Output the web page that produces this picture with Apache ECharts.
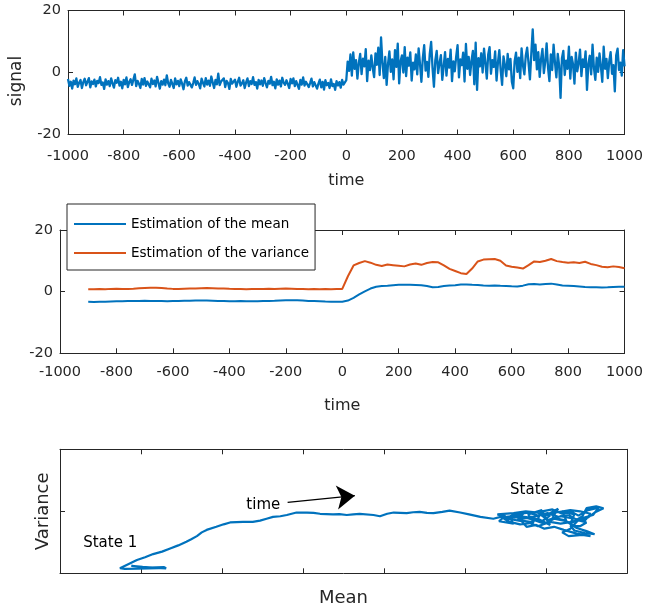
<!DOCTYPE html>
<html><head><meta charset="utf-8">
<script src="https://cdn.jsdelivr.net/npm/echarts@6/dist/echarts.min.js"></script>
<style>html,body{margin:0;padding:0;background:#fff}#c{width:646px;height:611px}</style>
</head><body><div id="c"></div>
<script>
// ---- Panel 1: raw signal, sampled every 5 time units from -1000 ----
const signalStart = -1000;
const signalStep = 5;
const signalPre = [
-2.1,-4.3,-3.0,-5.2,-2.6,-3.8,-1.9,-4.6,-3.3,-2.4,-5.0,-3.1,-2.0,-4.1,-3.6,-1.8,-4.8,-2.9,-3.7,-2.3,
-4.5,-2.7,-3.4,-1.5,-4.0,-3.2,-5.3,-2.2,-3.9,-2.8,-4.4,-1.9,-3.5,-4.9,-2.5,-3.3,-1.7,-4.2,-3.0,-5.1,
-2.4,-3.8,-1.6,-4.7,-3.1,-2.2,-4.0,-3.5,-0.6,-4.4,-2.7,-3.6,-5.0,-2.1,-3.9,-1.8,-4.3,-2.9,-3.4,-4.8,
-2.0,-3.7,-2.6,-4.5,-1.4,-3.3,-5.2,-2.8,-3.9,-2.3,-4.1,-0.9,-3.5,-4.6,-2.4,-3.0,-5.0,-1.9,-3.8,-2.7,
-4.4,-2.2,-3.6,-5.4,-2.9,-1.7,-4.2,-3.1,-2.5,-4.8,-3.4,-1.6,-4.0,-2.8,-3.7,-5.1,-2.0,-3.3,-4.5,-1.8,
-3.9,-2.6,-4.3,-1.3,-3.2,-5.0,-2.4,-3.8,-0.4,-4.1,-2.9,-3.5,-1.9,-4.7,-2.7,-3.4,-5.3,-2.1,-3.6,-4.0,
-2.3,-4.6,-3.0,-1.7,-4.2,-3.5,-2.5,-5.0,-3.2,-1.9,-4.4,-2.8,-3.7,-1.5,-4.0,-3.1,-5.2,-2.4,-3.8,-2.6,
-4.3,-1.8,-3.4,-4.8,-2.7,-3.6,-1.4,-4.1,-3.0,-5.1,-2.2,-3.9,-2.6,-4.5,-1.7,-3.3,-4.0,-2.5,-3.7,-5.0,
-2.1,-3.5,-1.9,-4.4,-2.8,-3.2,-5.3,-2.4,-3.9,-1.6,-4.2,-3.0,-2.6,-4.7,-3.4,-2.0,-4.5,-3.1,-2.7,-5.2,
-3.6,-2.3,-4.8,-3.0,-5.5,-2.5,-4.1,-3.4,-5.0,-2.2,-4.4,-3.7,-5.6,-2.8,-4.2,-3.1,-4.9,-2.4,-3.9,-3.2
];
const signalPost = [
-2.5,3.5,0.5,5.8,-1.0,6.5,1.2,4.0,-2.0,3.0,6.0,-0.5,4.5,2.0,7.5,-2.8,3.8,0.8,5.5,1.5,
-1.5,6.2,2.5,8.0,-0.8,11.3,3.0,-1.8,5.0,-4.0,2.8,6.8,0.2,4.2,-2.2,7.2,1.8,9.3,-3.5,3.6,
5.5,0.0,8.2,-1.2,4.8,2.2,6.5,-2.6,3.2,1.0,5.8,-0.6,7.8,2.6,-3.0,4.6,8.8,0.6,3.4,-1.4,
6.0,9.9,1.4,-4.6,4.0,7.0,-0.2,3.0,5.6,-2.4,2.0,6.6,-1.0,4.4,1.6,7.4,-2.8,3.6,0.4,5.2,
8.8,-1.6,4.2,2.4,6.4,-2.9,9.2,1.2,5.0,-0.8,3.8,7.0,-3.8,9.6,-5.6,4.6,2.0,6.2,0.0,7.7,
3.0,-2.0,5.8,8.2,-0.4,4.0,1.8,6.8,-2.6,3.2,7.2,0.6,-4.0,5.2,2.4,-1.2,6.0,1.0,4.4,-3.0,
-5.1,3.6,6.4,0.2,4.8,-1.8,7.8,2.2,-0.6,5.4,8.0,3.0,-2.2,6.2,13.9,4.0,9.0,1.0,6.6,-1.4,
4.4,7.6,-0.2,3.4,9.4,1.6,-2.8,5.8,0.8,9.0,3.2,-1.6,6.0,2.2,-8.2,4.6,7.0,-0.8,3.8,1.2,
8.3,-2.0,5.0,2.6,-3.6,6.4,0.4,3.0,7.4,-1.2,4.2,1.8,6.8,-5.6,2.8,5.4,-0.6,9.0,1.4,-2.4,
4.8,0.2,6.2,2.0,-3.0,8.3,1.2,4.4,-1.8,3.6,6.6,-0.4,2.4,-6.1,5.6,7.7,0.8,3.2,-1.0,7.2,
2.0
];

// ---- Panel 2: running estimates, every 20 time units from -900 ----
const estStart = -900;
const estStep = 20;
const meanEst = [
-3.3,-3.35,-3.3,-3.25,-3.2,-3.15,-3.1,-3.05,-3.0,-3.0,
-2.95,-3.0,-3.0,-3.05,-3.1,-3.05,-3.0,-2.95,-2.95,-2.9,
-2.85,-2.9,-2.95,-3.0,-3.05,-3.1,-3.1,-3.05,-3.1,-3.15,
-3.1,-3.05,-3.0,-2.95,-2.85,-2.8,-2.75,-2.8,-2.9,-3.0,
-3.05,-3.1,-3.2,-3.25,-3.3,
-3.3,
-2.9,-2.0,-0.9,0.1,1.0,1.6,1.85,1.95,2.1,2.2,
2.25,2.2,2.15,2.1,1.8,1.4,1.5,1.8,2.0,2.1,
2.3,2.35,2.2,2.15,2.0,1.95,2.0,1.9,1.85,1.75,
1.7,1.95,2.4,2.45,2.35,2.5,2.6,2.3,2.0,1.9,
1.8,1.65,1.5,1.45,1.4,1.35,1.4,1.5,1.55,1.6
];
const varEst = [
0.8,0.8,0.85,0.8,0.9,0.95,0.9,0.85,0.95,1.1,
1.2,1.3,1.25,1.15,1.0,0.9,0.9,0.95,1.0,1.05,
1.1,1.15,1.1,1.0,1.05,0.95,0.9,0.85,0.8,0.85,
0.9,0.9,0.95,0.9,0.95,1.0,0.95,0.9,0.85,0.8,
0.85,0.8,0.85,0.8,0.85,
0.9,
5.0,8.5,9.3,9.9,9.4,8.7,8.3,8.8,8.6,8.4,
8.2,8.8,9.1,8.7,9.3,9.6,9.5,8.5,7.4,6.7,
6.0,5.7,7.5,9.8,10.4,10.5,10.6,10.0,8.5,8.1,
7.8,7.5,8.6,9.8,9.6,10.0,10.6,9.9,9.6,9.4,
9.5,9.3,9.7,9.0,8.6,8.1,7.9,8.2,8.0,7.6
];

// ---- Panel 3: trajectory in (mean, variance) plane ----
const trajMean = [
-2.90,-2.72,-2.69,-2.95,-3.12,-2.98,-2.78,-3.04,-3.20,-3.26,
-3.05,-2.95,-2.85,-2.74,-2.64,-2.54,-2.44,-2.38,-2.31,-2.25,-2.19,-2.07,-1.98,-1.90,-1.74,-1.62,-1.53,-1.45,-1.37,-1.28,
-1.20,-1.08,-0.95,-0.87,-0.79,-0.63,-0.55,-0.46,-0.38,-0.30,-0.13,-0.05,0.04,0.12,0.28,0.36,0.44,0.53,0.61,0.72,
0.81,0.94,1.05,1.19,
1.35,1.5,1.42,1.6,1.55,1.72,1.65,1.85,1.78,1.95,1.9,2.05,1.98,2.15,2.08,2.25,2.2,2.35,2.3,2.45,
2.5,2.62,2.71,2.6,2.52,2.4,2.3,2.2,2.28,2.45,2.55,2.38,2.22,2.1,1.98,1.88,1.76,1.7,1.58,1.45,
1.62,1.8,2.0,2.12,2.3,2.42,2.55,2.48,2.35,2.18,2.02,1.9,1.75,1.6,1.4,
1.55,1.7,1.68,1.82,1.95,2.05,1.92,2.08,2.2,2.32,2.4,2.52,2.65,2.58,2.45,2.32,2.18,2.05,1.9,1.8,
1.68,1.55,1.48,1.62,1.78,1.9,2.02,2.15,2.28,2.38,2.5,2.42,2.3,2.35,2.48,2.6,2.5,2.38,2.25,2.1,
1.98,1.85,1.72,1.6
];
const trajVar = [
0.9,1.0,0.8,0.95,1.2,1.05,0.85,0.75,0.72,0.81,
2.15,2.6,3.1,3.5,4.0,4.5,5.1,5.5,6.0,6.6,7.0,7.5,7.9,8.2,8.3,8.3,8.5,8.8,9.1,9.2,
9.4,9.8,9.8,9.75,9.6,9.5,9.55,9.4,9.5,9.6,9.4,9.2,9.6,9.8,9.7,9.85,9.9,9.75,9.7,9.9,
10.1,9.8,9.5,9.1,
8.8,9.3,8.4,8.0,9.0,9.6,8.6,8.2,9.5,10.2,8.8,7.8,9.2,10.4,9.0,8.5,10.0,9.5,8.0,9.2,
10.5,10.8,10.5,9.8,9.0,8.6,7.2,6.6,6.0,6.2,6.0,6.4,7.0,7.5,7.2,7.8,7.5,8.4,8.7,9.0,
9.3,9.0,9.6,9.8,10.2,10.0,9.6,8.5,8.8,9.2,8.6,9.8,10.0,9.7,9.5,
8.9,9.4,8.7,9.1,8.4,9.3,9.9,10.3,9.6,9.9,9.3,10.2,10.6,9.4,8.9,8.3,8.0,8.3,7.6,8.1,
7.9,8.3,8.8,9.5,9.8,9.3,9.7,9.1,9.4,8.6,8.2,7.6,7.7,6.9,6.5,6.3,6.8,7.3,8.4,8.8,
8.0,8.6,9.1,9.0
];

const BLUE = '#0072BD', ORANGE = '#D95319', AX = '#262626', FONT = 'DejaVu Sans';

const signalData = signalPre.concat(signalPost).map((v, i) => [signalStart + i * signalStep, v]);
const meanData = meanEst.map((v, i) => [estStart + i * estStep, v]);
const varData = varEst.map((v, i) => [estStart + i * estStep, v]);
const trajData = trajMean.map((m, i) => [m, trajVar[i]]);

const grids = [
  {left: 60, right: 19, top: 10.5, height: 124},
  {left: 60, right: 19, top: 230, height: 123.3},
  {left: 60, right: 19, top: 449.3, height: 124}
];
const axisCommon = {
  type: 'value',
  axisLine: {show: true, onZero: false, lineStyle: {color: AX, width: 1}},
  axisTick: {show: true, inside: true, length: 5, lineStyle: {color: AX, width: 1}},
  splitLine: {show: false}
};
function mkX(g, min, max, interval, pos, labels, margin, name, nameGap) {
  return Object.assign({}, axisCommon, {
    gridIndex: g, min, max, interval, position: pos,
    axisLabel: {show: labels, margin: margin, color: AX, fontSize: 14.5, fontFamily: FONT,
                formatter: v => String(v)},
    name: name || '', nameLocation: 'middle', nameGap: nameGap || 0,
    nameTextStyle: {color: AX, fontSize: g === 2 ? 18 : 16, fontFamily: FONT}
  });
}
function mkY(g, min, max, interval, pos, labels, name, nameGap, pad) {
  return Object.assign({}, axisCommon, {
    gridIndex: g, min, max, interval, position: pos,
    axisLabel: {show: labels, margin: 7, color: AX, fontSize: 14.5, fontFamily: FONT,
                formatter: v => String(v)},
    name: name || '', nameLocation: 'middle', nameGap: nameGap || 0,
    nameTextStyle: {color: AX, fontSize: g === 2 ? 18 : 17, fontFamily: FONT, padding: pad || 0}
  });
}

const option = {
  animation: false,
  backgroundColor: '#fff',
  grid: grids,
  legend: {
    orient: 'vertical', left: 67, top: 204,
    data: [
      {name: 'Estimation of the mean', icon: 'rect'},
      {name: 'Estimation of the variance', icon: 'rect'}
    ],
    itemWidth: 52, itemHeight: 2, itemGap: 15,
    padding: [13, 6, 10, 7],
    borderColor: AX, borderWidth: 1, backgroundColor: '#fff',
    textStyle: {color: '#000', fontSize: 13.5, fontFamily: FONT},
    z: 10
  },
  xAxis: [
    mkX(0, -1000, 1000, 200, 'bottom', true, 14, 'time', 38),
    mkX(0, -1000, 1000, 200, 'top', false, 8),
    mkX(1, -1000, 1000, 200, 'bottom', true, 11, 'time', 45),
    mkX(1, -1000, 1000, 200, 'top', false, 8),
    mkX(2, -4, 3, 1, 'bottom', false, 8, 'Mean', 16),
    mkX(2, -4, 3, 1, 'top', false, 8)
  ],
  yAxis: [
    mkY(0, -20, 20, 20, 'left', true, 'signal', 43, [0, 17, 0, 0]),
    mkY(0, -20, 20, 20, 'right', false),
    mkY(1, -20, 20, 20, 'left', true),
    mkY(1, -20, 20, 20, 'right', false),
    mkY(2, 0, 20, 10, 'left', false, 'Variance', 8),
    mkY(2, 0, 20, 10, 'right', false)
  ],
  series: [
    {type: 'line', xAxisIndex: 0, yAxisIndex: 0, data: signalData, symbol: 'none',
     lineStyle: {color: BLUE, width: 2.3, join: 'round'}, itemStyle: {color: BLUE}, silent: true},
    {type: 'line', name: 'Estimation of the mean', xAxisIndex: 2, yAxisIndex: 2, data: meanData,
     symbol: 'none', lineStyle: {color: BLUE, width: 2}, itemStyle: {color: BLUE}},
    {type: 'line', name: 'Estimation of the variance', xAxisIndex: 2, yAxisIndex: 2, data: varData,
     symbol: 'none', lineStyle: {color: ORANGE, width: 2}, itemStyle: {color: ORANGE}},
    {type: 'line', xAxisIndex: 4, yAxisIndex: 4, data: trajData, symbol: 'none',
     lineStyle: {color: BLUE, width: 2.2}, itemStyle: {color: BLUE},
     markLine: {
       silent: true, symbol: ['none', 'arrow'], symbolSize: 18,
       lineStyle: {color: '#000', width: 1.2, type: 'solid'},
       itemStyle: {color: '#000'},
       label: {show: false},
       data: [[{coord: [-1.19, 11.45]}, {coord: [-0.36, 12.52]}]]
     },
     markPoint: {
       silent: true, symbol: 'circle', symbolSize: 1,
       itemStyle: {color: 'rgba(0,0,0,0)'},
       label: {show: true, position: 'inside', formatter: '{b}', color: '#000', fontSize: 15, fontFamily: FONT},
       data: [
         {name: 'State 1', coord: [-3.38, 4.84]},
         {name: 'State 2', coord: [1.89, 13.44]},
         {name: 'time', coord: [-1.49, 11.0]}
       ]
     }
    }
  ]
};
const chart = echarts.init(document.getElementById('c'), null, {renderer: 'canvas'});
chart.setOption(option);
</script>
</body></html>
